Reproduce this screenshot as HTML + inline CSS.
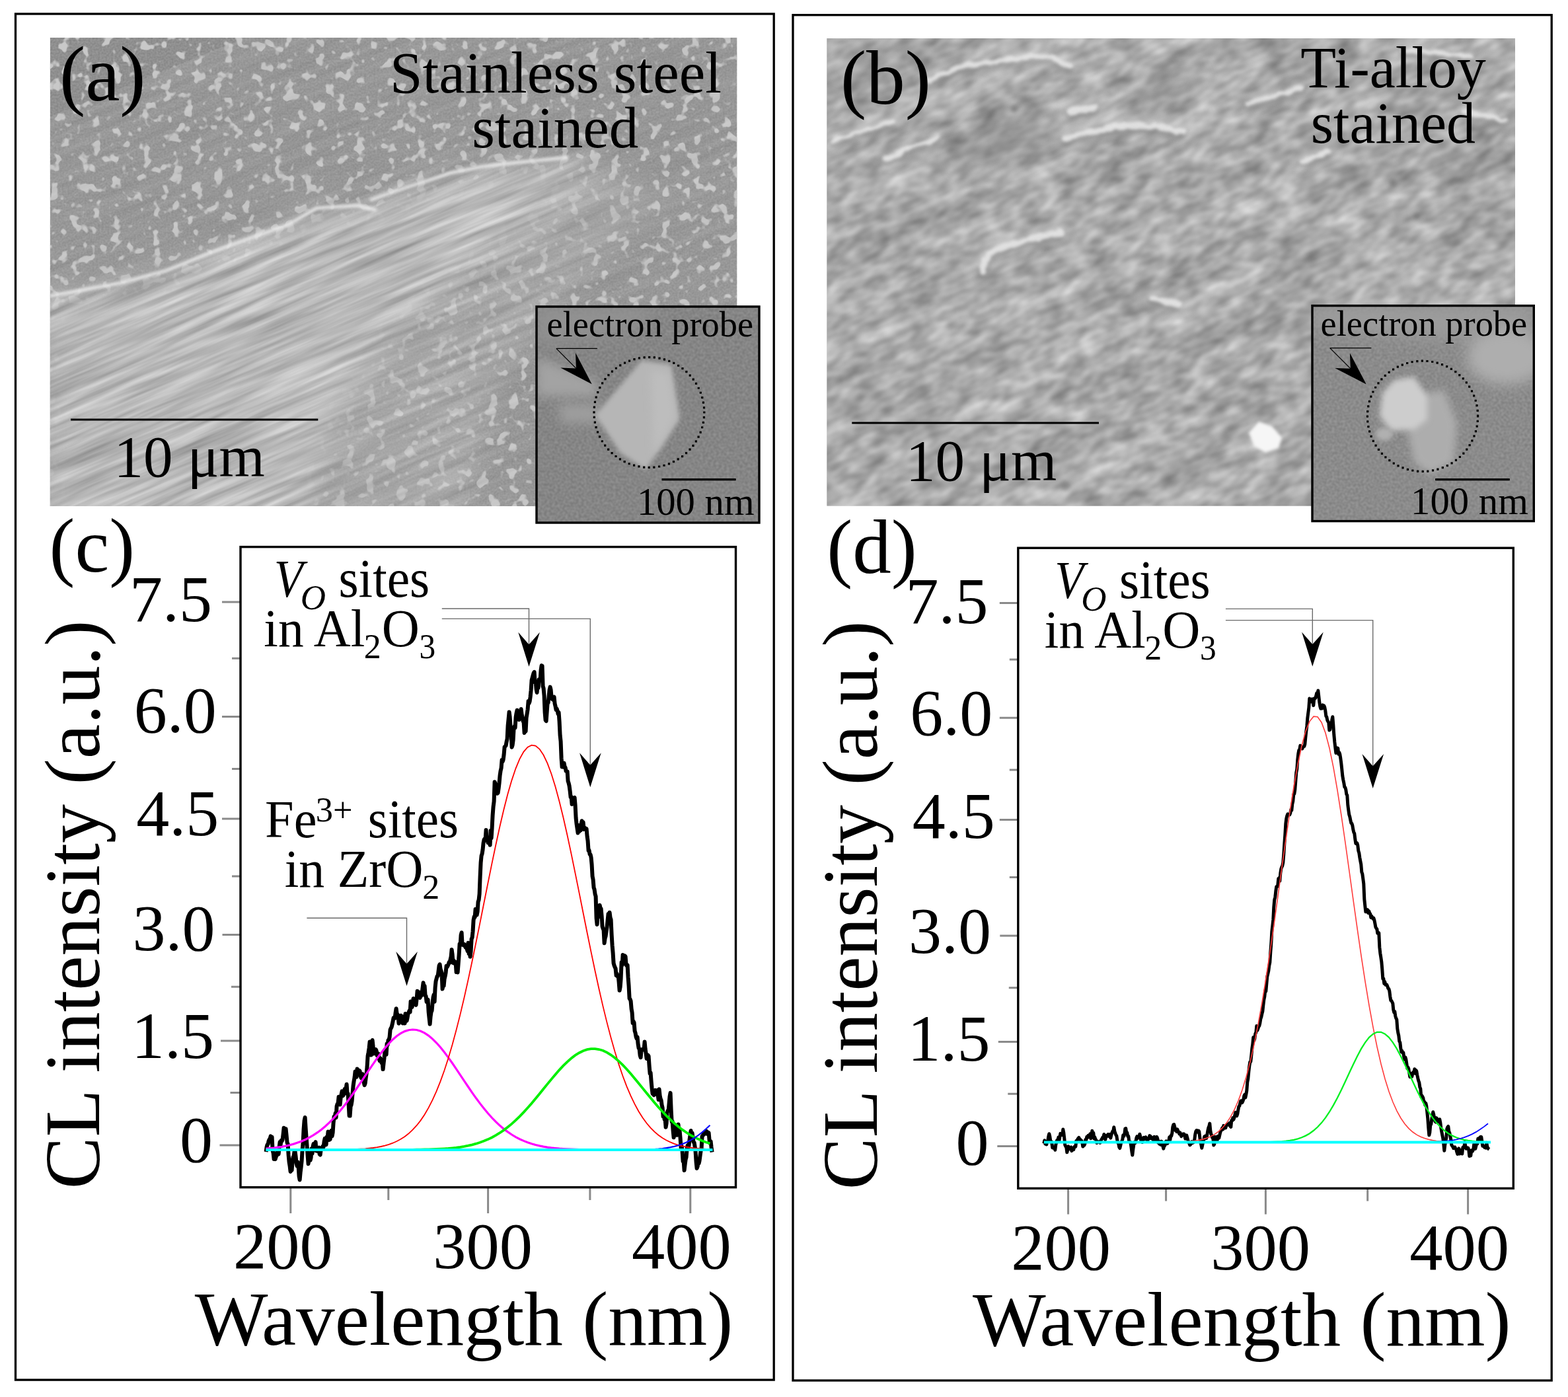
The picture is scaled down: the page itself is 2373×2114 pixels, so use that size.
<!DOCTYPE html>
<html><head><meta charset="utf-8"><title>CL spectra figure</title><style>html,body{margin:0;padding:0;background:#fff;overflow:hidden;}svg{display:block;}text{font-family:"Liberation Serif","Times New Roman",serif;fill:#000;}</style></head><body>
<svg width="2373" height="2114" viewBox="0 0 2373 2114">
<defs>
<clipPath id="clipA"><rect x="75.7" y="57" width="1039.8" height="709"/></clipPath>
<clipPath id="clipB"><rect x="1251.5" y="58" width="1041.5" height="707.5"/></clipPath>
<mask id="bandMask" maskUnits="userSpaceOnUse" x="0" y="0" width="1200" height="800"><path d="M60,450 L184,430 L250,412 L317,385 L380,362 L438,341 L479,317 L540,313 L560,305 L620,284 L681,264 L730,254 L782,248 L870,238 L900,250 L813,345 L700,420 L604,500 L520,640 L480,800 L60,800 Z" fill="#fff" filter="url(#blur20)"/></mask>
<mask id="bandMask2" maskUnits="userSpaceOnUse" x="0" y="0" width="1200" height="800"><path d="M560,420 L760,330 L900,250 L1000,300 L880,420 L760,560 L700,800 L480,800 Z" fill="#fff" filter="url(#blur20)"/></mask>
<clipPath id="bandA"><path d="M60,446 L275,405 L481,317 L686,266 L779,248 L900,228 L1130,190 L1130,250 L900,330 L800,420 L700,560 L600,800 L60,800 Z"/></clipPath>
<clipPath id="clipIA"><rect x="812" y="464" width="337" height="327"/></clipPath>
<clipPath id="clipIB"><rect x="1986" y="462.6" width="335.3" height="326"/></clipPath>
<filter id="grainA" x="0" y="0" width="100%" height="100%" color-interpolation-filters="sRGB">
  <feTurbulence type="fractalNoise" baseFrequency="0.065" numOctaves="2" seed="4" result="n"/>
  <feColorMatrix in="n" type="matrix" values="0 0 0 0 0  0 0 0 0 0  0 0 0 0 0  1 0 0 0 0" result="a"/>
  <feComponentTransfer in="a" result="b"><feFuncA type="linear" slope="10" intercept="-5.7"/></feComponentTransfer>
  <feComposite in="SourceGraphic" in2="b" operator="in"/>
</filter>
<filter id="fineA" x="0" y="0" width="100%" height="100%" color-interpolation-filters="sRGB">
  <feTurbulence type="fractalNoise" baseFrequency="0.35" numOctaves="1" seed="11" result="n"/>
  <feColorMatrix in="n" type="matrix" values="0 0 0 0 0  0 0 0 0 0  0 0 0 0 0  0.25 0 0 0 -0.08"/>
</filter>
<filter id="streakA" x="0" y="0" width="100%" height="100%" color-interpolation-filters="sRGB">
  <feTurbulence type="fractalNoise" baseFrequency="0.006 0.1" numOctaves="3" seed="2" result="n"/>
  <feColorMatrix in="n" type="matrix" values="0.38 0 0 0 0.535  0.38 0 0 0 0.535  0.38 0 0 0 0.535  0 0 0 0 1"/>
</filter>
<filter id="texB" x="0" y="0" width="100%" height="100%" color-interpolation-filters="sRGB">
  <feTurbulence type="fractalNoise" baseFrequency="0.006 0.018" numOctaves="3" seed="5" result="n"/>
  <feColorMatrix in="n" type="matrix" values="0.45 0 0 0 0.44  0.45 0 0 0 0.44  0.45 0 0 0 0.44  0 0 0 0 1"/>
</filter>
<filter id="texB2" x="0" y="0" width="100%" height="100%" color-interpolation-filters="sRGB">
  <feTurbulence type="fractalNoise" baseFrequency="0.03 0.055" numOctaves="2" seed="8" result="n"/>
  <feColorMatrix in="n" type="matrix" values="0.7 0 0 0 0.32  0.7 0 0 0 0.32  0.7 0 0 0 0.32  0 0 0 0 1"/>
</filter>
<filter id="texI" x="0" y="0" width="100%" height="100%" color-interpolation-filters="sRGB">
  <feTurbulence type="fractalNoise" baseFrequency="0.25" numOctaves="1" seed="21" result="n"/>
  <feColorMatrix in="n" type="matrix" values="1 0 0 0 0  1 0 0 0 0  1 0 0 0 0  0 0 0 0 1"/>
</filter>
<filter id="blur10" filterUnits="userSpaceOnUse" x="0" y="0" width="2373" height="2114"><feGaussianBlur stdDeviation="10"/></filter>
<filter id="blur3" filterUnits="userSpaceOnUse" x="0" y="0" width="2373" height="2114"><feGaussianBlur stdDeviation="3"/></filter>
<filter id="blur20" filterUnits="userSpaceOnUse" x="0" y="0" width="2373" height="2114"><feGaussianBlur stdDeviation="20"/></filter>
<filter id="bumpy" filterUnits="userSpaceOnUse" x="0" y="0" width="2373" height="2114">
  <feTurbulence type="fractalNoise" baseFrequency="0.06" numOctaves="2" seed="3" result="t"/>
  <feDisplacementMap in="SourceGraphic" in2="t" scale="10" xChannelSelector="R" yChannelSelector="G" result="d"/>
  <feGaussianBlur in="d" stdDeviation="2.2"/>
</filter>
<filter id="blur12" filterUnits="userSpaceOnUse" x="0" y="0" width="2373" height="2114"><feGaussianBlur stdDeviation="12"/></filter>
<filter id="blur30" filterUnits="userSpaceOnUse" x="0" y="0" width="2373" height="2114"><feGaussianBlur stdDeviation="30"/></filter>
<filter id="blur8" filterUnits="userSpaceOnUse" x="0" y="0" width="2373" height="2114"><feGaussianBlur stdDeviation="8"/></filter>
<filter id="blur6" filterUnits="userSpaceOnUse" x="0" y="0" width="2373" height="2114"><feGaussianBlur stdDeviation="6"/></filter>
<filter id="blur4" filterUnits="userSpaceOnUse" x="0" y="0" width="2373" height="2114"><feGaussianBlur stdDeviation="4"/></filter>
<filter id="blur2" filterUnits="userSpaceOnUse" x="0" y="0" width="2373" height="2114"><feGaussianBlur stdDeviation="2"/></filter>
</defs>
<rect width="2373" height="2114" fill="#fff"/>
<rect x="23.5" y="21" width="1147.7" height="2067.1" fill="none" stroke="#000" stroke-width="3.3"/>
<rect x="1200" y="22.7" width="1148.2" height="2066.3" fill="none" stroke="#000" stroke-width="3.3"/>
<g clip-path="url(#clipA)">
<rect x="75.7" y="57.0" width="1039.8" height="709.0" fill="#969696"/>
<rect x="75.7" y="57.0" width="1039.8" height="709.0" fill="#000" filter="url(#fineA)"/>
<rect x="75.7" y="57.0" width="1039.8" height="709.0" fill="#c8c8c8" filter="url(#grainA)"/>
<g transform="rotate(-22 600 450)" opacity="0.2"><rect x="-100" y="0" width="1600" height="1000" filter="url(#streakA)"/></g>
<g mask="url(#bandMask2)" opacity="0.45"><g transform="rotate(-23 600 450)"><rect x="-100" y="0" width="1600" height="1000" filter="url(#streakA)"/></g></g>
<g mask="url(#bandMask)"><g transform="rotate(-23 600 450)"><rect x="-100" y="0" width="1600" height="1000" filter="url(#streakA)"/></g></g>
<path d="M75,448 L184,428 L250,410 L317,383 L380,360 L438,339 L479,315 L540,311 L570,318 M560,303 L620,282 L681,262 L730,252 L782,246 L860,238" stroke="#f0f0f0" stroke-width="5" fill="none" opacity="0.9" filter="url(#blur2)"/>
</g>
<g clip-path="url(#clipB)">
<rect x="1251.5" y="58.0" width="1041.5" height="707.5" fill="#a6a6a6"/>
<g transform="rotate(-24 1770 410)"><rect x="1000" y="-300" width="1600" height="1400" filter="url(#texB)"/><rect x="1000" y="-300" width="1600" height="1400" filter="url(#texB2)" opacity="0.55"/></g>
<g fill="#7e7e7e" opacity="0.28" filter="url(#blur12)"><ellipse cx="1525" cy="215" rx="90" ry="40" transform="rotate(-20 1525 215)"/><ellipse cx="1765" cy="130" rx="60" ry="25" transform="rotate(-20 1765 130)"/><ellipse cx="1330" cy="90" rx="70" ry="22" transform="rotate(-20 1330 90)"/></g>
<g fill="#6a6a6a" opacity="0.6" filter="url(#blur3)"><circle cx="2108" cy="276" r="6"/><circle cx="2144" cy="327" r="5"/><circle cx="1535" cy="165" r="6"/><circle cx="1612" cy="735" r="8"/></g>
<g fill="none" stroke="#d2d2d2" stroke-linecap="round" filter="url(#blur8)" opacity="0.35"><path d="M1404,122 C1440,104 1460,98 1481,96 C1520,92 1550,84 1579,86 C1600,88 1612,95 1620,101" stroke-width="24"/><path d="M1342,240 C1370,228 1395,216 1420,209" stroke-width="21"/><path d="M1610,209 C1650,200 1690,190 1713,189 C1745,188 1770,195 1790,199" stroke-width="30"/><path d="M1620,168 L1656,163" stroke-width="36"/><path d="M1887,158 C1920,148 1950,138 1970,132" stroke-width="21"/><path d="M2124,76 C2160,78 2200,82 2226,86" stroke-width="21"/><path d="M2216,168 C2240,172 2260,178 2278,183" stroke-width="21"/><path d="M1486,410 C1488,395 1494,385 1505,378 C1540,366 1575,356 1605,353" stroke-width="30"/><path d="M1743,451 L1784,461" stroke-width="30"/><path d="M1970,245 L2011,230" stroke-width="21"/><path d="M1260,214 C1300,200 1330,188 1353,183" stroke-width="18"/></g>
<g fill="none" stroke="#7a7a7a" stroke-linecap="round" filter="url(#blur4)" opacity="0.55" transform="translate(0 7)"><path d="M1404,122 C1440,104 1460,98 1481,96 C1520,92 1550,84 1579,86 C1600,88 1612,95 1620,101" stroke-width="10"/><path d="M1342,240 C1370,228 1395,216 1420,209" stroke-width="9"/><path d="M1610,209 C1650,200 1690,190 1713,189 C1745,188 1770,195 1790,199" stroke-width="12"/><path d="M1620,168 L1656,163" stroke-width="14"/><path d="M1887,158 C1920,148 1950,138 1970,132" stroke-width="9"/><path d="M2124,76 C2160,78 2200,82 2226,86" stroke-width="9"/><path d="M2216,168 C2240,172 2260,178 2278,183" stroke-width="9"/><path d="M1486,410 C1488,395 1494,385 1505,378 C1540,366 1575,356 1605,353" stroke-width="12"/><path d="M1743,451 L1784,461" stroke-width="12"/><path d="M1970,245 L2011,230" stroke-width="9"/><path d="M1260,214 C1300,200 1330,188 1353,183" stroke-width="8"/></g>
<g fill="none" stroke="#e6e6e6" stroke-linecap="round" filter="url(#bumpy)" opacity="0.9"><path d="M1404,122 C1440,104 1460,98 1481,96 C1520,92 1550,84 1579,86 C1600,88 1612,95 1620,101" stroke-width="8"/><path d="M1342,240 C1370,228 1395,216 1420,209" stroke-width="7"/><path d="M1610,209 C1650,200 1690,190 1713,189 C1745,188 1770,195 1790,199" stroke-width="10"/><path d="M1620,168 L1656,163" stroke-width="12"/><path d="M1887,158 C1920,148 1950,138 1970,132" stroke-width="7"/><path d="M2124,76 C2160,78 2200,82 2226,86" stroke-width="7"/><path d="M2216,168 C2240,172 2260,178 2278,183" stroke-width="7"/><path d="M1486,410 C1488,395 1494,385 1505,378 C1540,366 1575,356 1605,353" stroke-width="10"/><path d="M1743,451 L1784,461" stroke-width="10"/><path d="M1970,245 L2011,230" stroke-width="7"/><path d="M1260,214 C1300,200 1330,188 1353,183" stroke-width="6"/></g>
<path d="M1890,655 L1905,638 L1925,645 L1940,662 L1935,678 L1915,685 L1898,675 Z" fill="#f6f6f6" filter="url(#blur2)"/>
</g>
<g clip-path="url(#clipIA)">
<rect x="812" y="464" width="337" height="327" fill="#878787"/>
<rect x="812" y="464" width="337" height="327" filter="url(#texI)" opacity="0.15"/>
<path d="M812,540 L900,575 L905,600 L812,600 Z" fill="#a3a3a3" filter="url(#blur8)"/>
<path d="M845,612 L905,612 L905,640 L850,640 Z" fill="#9e9e9e" filter="url(#blur8)"/>
<path d="M812,464 L1000,464 L960,500 L812,520 Z" fill="#929292" filter="url(#blur12)"/>
<path d="M971,545.5 L1015.6,551.8 L1028.3,634.5 L977.4,710.9 L939.3,685.4 L901,628.2 Z" fill="#b6b6b6" filter="url(#blur3)"/>
<path d="M985,560 L1012,565 L1022,630 L990,690 Z" fill="#bdbdbd" filter="url(#blur6)"/>
</g>
<rect x="812" y="464" width="337" height="327" fill="none" stroke="#000" stroke-width="3.4"/>
<circle cx="982.4" cy="624" r="83.4" fill="none" stroke="#000" stroke-width="3.2" stroke-dasharray="0 7.7" stroke-linecap="square"/>
<g clip-path="url(#clipIB)">
<rect x="1986" y="462.6" width="335.3000000000002" height="326.0" fill="#8e8e8e"/>
<rect x="1986" y="462.6" width="335.3000000000002" height="326.0" filter="url(#texI)" opacity="0.15"/>
<path d="M1986,462 L2321,462 L2321,520 L1986,500 Z" fill="#9c9c9c" filter="url(#blur12)"/>
<ellipse cx="2280" cy="540" rx="60" ry="42" fill="#aeaeae" filter="url(#blur10)"/>
<path d="M2135,600 L2185,590 L2205,640 L2200,700 L2165,718 L2140,700 L2130,650 Z" fill="#adadad" filter="url(#blur6)"/>
<path d="M2092,595 L2110,575 L2140,570 L2160,600 L2160,635 L2140,650 L2105,652 L2088,630 Z" fill="#cdcdcd" filter="url(#blur4)"/>
<ellipse cx="2095" cy="657" rx="13" ry="10" fill="#b0b0b0" filter="url(#blur3)"/>
</g>
<rect x="1986" y="462.6" width="335.3000000000002" height="326.0" fill="none" stroke="#000" stroke-width="3.4"/>
<circle cx="2153" cy="629.8" r="83.6" fill="none" stroke="#000" stroke-width="3.2" stroke-dasharray="0 7.7" stroke-linecap="square"/>
<path d="M841.9,527.4 L903.9,527.4 M841.9,527.4 L875.7,561.3" stroke="#000" stroke-width="1.2" fill="none"/>
<path d="M895.7,581.3 L848.3,556.5 L871.9,557.4 L871.0,533.9 Z" fill="#000"/>
<path d="M2012.7,526.7 L2075.4,526.7 M2012.7,526.7 L2047.6999999999998,561.6" stroke="#000" stroke-width="1.2" fill="none"/>
<path d="M2067.7,581.6 L2020.3,556.9 L2043.8,557.8 L2042.9,534.2 Z" fill="#000"/>
<text x="90" y="151.8" font-size="117.6" text-anchor="start" >(a)</text>
<text x="1271.9" y="157.2" font-size="117.5" text-anchor="start" >(b)</text>
<text x="841" y="139.5" font-size="89" text-anchor="middle" >Stainless steel</text>
<text x="840.3" y="223.1" font-size="89" text-anchor="middle" >stained</text>
<text x="2108.5" y="131.6" font-size="88" text-anchor="middle" >Ti-alloy</text>
<text x="2108.5" y="215.6" font-size="88" text-anchor="middle" >stained</text>
<path d="M107.1,635.1 L481.3,635.1 M1289.3,640 L1663,640" stroke="#000" stroke-width="3"/>
<text x="172.6" y="721.4" font-size="89" text-anchor="start" >10 μm</text>
<text x="1371" y="727" font-size="89" text-anchor="start" >10 μm</text>
<text x="827.5" y="509.1" font-size="54.4" text-anchor="start" >electron probe</text>
<text x="1998.6" y="508" font-size="54.4" text-anchor="start" >electron probe</text>
<path d="M1001.5,725.7 L1113.7,725.7 M2172.1,725.6 L2284.8,725.6" stroke="#000" stroke-width="3.2"/>
<text x="963.9" y="778.6" font-size="58.7" text-anchor="start" >100 nm</text>
<text x="2135.1" y="778.4" font-size="58.7" text-anchor="start" >100 nm</text>
<text x="74.6" y="864.9" font-size="116.6" text-anchor="start" >(c)</text>
<text x="1251.3" y="867.2" font-size="117" text-anchor="start" >(d)</text>
<path d="M336,911 L364.0,911 M336,1084.6 L364.0,1084.6 M336,1239 L364.0,1239 M336.5,1414.5 L364.0,1414.5 M334,1575 L364.0,1575 M332.5,1733 L364.0,1733 M351,996.3 L364.0,996.3 M351,1163.5 L364.0,1163.5 M351,1326 L364.0,1326 M350,1493.2 L364.0,1493.2 M348.5,1653.6 L364.0,1653.6 M439.8,1796.7 L439.8,1836 M738.6,1796.7 L738.6,1836 M1044.8,1796.7 L1044.8,1836 M587.8,1796.7 L587.8,1816 M892.9,1796.7 L892.9,1816" stroke="#8a8a8a" stroke-width="3" fill="none"/>
<text x="320.9" y="939.5" font-size="100" text-anchor="end" >7.5</text>
<text x="327.8" y="1108" font-size="100" text-anchor="end" >6.0</text>
<text x="331.3" y="1263.8" font-size="100" text-anchor="end" >4.5</text>
<text x="325.4" y="1438.3" font-size="100" text-anchor="end" >3.0</text>
<text x="324.0" y="1601" font-size="100" text-anchor="end" >1.5</text>
<text x="321.9" y="1758.4" font-size="100" text-anchor="end" >0</text>
<text x="428.4" y="1919" font-size="100.5" text-anchor="middle" >200</text>
<text x="730.5" y="1919" font-size="100.5" text-anchor="middle" >300</text>
<text x="1031.4" y="1919" font-size="100.5" text-anchor="middle" >400</text>
<text x="0" y="0" font-size="118" transform="translate(150.0 1799.3) rotate(-90)">CL intensity (a.u.)</text>
<text x="294.7" y="2035.2" font-size="117.3" text-anchor="start" >Wavelength (nm)</text>
<polyline points="402.6,1743.0 403.6,1735.6 404.6,1732.1 405.6,1731.4 406.6,1726.7 407.6,1724.3 408.6,1723.3 409.6,1719.4 410.6,1723.3 411.6,1720.6 412.6,1741.0 413.6,1744.7 414.6,1754.0 415.6,1752.3 416.6,1754.2 417.6,1750.7 418.6,1748.9 419.6,1742.0 420.6,1741.9 421.6,1746.5 422.6,1736.1 423.6,1728.1 424.6,1732.5 425.6,1725.8 426.6,1726.7 427.6,1724.4 428.6,1716.4 429.6,1706.7 430.6,1712.0 431.6,1714.5 432.6,1708.3 433.6,1718.4 434.6,1729.2 435.6,1730.9 436.6,1747.7 437.6,1758.5 438.6,1764.4 439.6,1772.9 440.6,1770.2 441.6,1770.9 442.6,1756.8 443.6,1751.2 444.6,1749.3 445.6,1742.4 446.6,1742.7 447.6,1750.1 448.6,1760.6 449.6,1764.6 450.6,1758.4 451.6,1764.2 452.6,1780.0 453.6,1785.5 454.6,1774.5 455.6,1766.3 456.6,1756.9 457.6,1740.2 458.6,1728.9 459.6,1708.5 460.6,1695.8 461.6,1691.0 462.6,1707.2 463.6,1721.2 464.6,1734.1 465.6,1748.5 466.6,1761.2 467.6,1753.4 468.6,1753.6 469.6,1755.8 470.6,1751.8 471.6,1738.2 472.6,1745.7 473.6,1734.6 474.6,1730.8 475.6,1730.7 476.6,1735.1 477.6,1728.1 478.6,1741.5 479.6,1740.3 480.6,1738.6 481.6,1742.5 482.6,1736.5 483.6,1746.4 484.6,1747.5 485.6,1740.3 486.6,1738.6 487.6,1736.4 488.6,1734.5 489.6,1735.7 490.6,1727.5 491.6,1722.9 492.6,1725.9 493.6,1732.2 494.6,1720.4 495.6,1722.0 496.6,1712.4 497.6,1725.1 498.6,1722.4 499.6,1724.2 500.6,1716.3 501.6,1710.9 502.6,1719.3 503.6,1714.0 504.6,1699.1 505.6,1689.7 506.6,1692.3 507.6,1684.6 508.6,1691.2 509.6,1673.8 510.6,1670.5 511.6,1669.5 512.6,1659.7 513.6,1661.5 514.6,1671.6 515.6,1661.6 516.6,1656.2 517.6,1651.4 518.6,1658.4 519.6,1657.4 520.6,1653.2 521.6,1648.1 522.6,1649.3 523.6,1647.5 524.6,1640.8 525.6,1655.3 526.6,1654.9 527.6,1670.8 528.6,1688.5 529.6,1688.6 530.6,1674.4 531.6,1672.0 532.6,1666.3 533.6,1653.8 534.6,1643.0 535.6,1636.0 536.6,1630.4 537.6,1621.4 538.6,1624.5 539.6,1629.8 540.6,1617.4 541.6,1621.5 542.6,1621.1 543.6,1619.8 544.6,1621.0 545.6,1628.1 546.6,1631.1 547.6,1632.0 548.6,1625.2 549.6,1632.0 550.6,1637.4 551.6,1642.1 552.6,1639.5 553.6,1631.8 554.6,1624.6 555.6,1614.1 556.6,1597.7 557.6,1592.5 558.6,1585.9 559.6,1576.5 560.6,1579.9 561.6,1596.6 562.6,1580.8 563.6,1574.0 564.6,1583.4 565.6,1594.6 566.6,1588.5 567.6,1590.5 568.6,1588.0 569.6,1589.9 570.6,1597.2 571.6,1595.9 572.6,1594.4 573.6,1601.6 574.6,1605.1 575.6,1601.5 576.6,1606.1 577.6,1608.5 578.6,1607.3 579.6,1618.1 580.6,1608.6 581.6,1600.3 582.6,1590.1 583.6,1587.8 584.6,1595.8 585.6,1579.5 586.6,1581.4 587.6,1573.9 588.6,1573.5 589.6,1569.3 590.6,1558.2 591.6,1556.0 592.6,1554.2 593.6,1550.3 594.6,1545.5 595.6,1540.4 596.6,1541.2 597.6,1540.7 598.6,1532.5 599.6,1526.2 600.6,1533.7 601.6,1535.2 602.6,1540.1 603.6,1548.8 604.6,1541.5 605.6,1541.0 606.6,1536.7 607.6,1539.0 608.6,1538.5 609.6,1548.4 610.6,1542.2 611.6,1538.1 612.6,1548.6 613.6,1534.0 614.6,1543.4 615.6,1544.5 616.6,1540.0 617.6,1533.7 618.6,1531.9 619.6,1529.4 620.6,1531.6 621.6,1515.5 622.6,1521.9 623.6,1524.0 624.6,1518.4 625.6,1510.9 626.6,1516.3 627.6,1513.4 628.6,1519.6 629.6,1520.8 630.6,1511.6 631.6,1499.8 632.6,1505.3 633.6,1501.1 634.6,1507.2 635.6,1509.9 636.6,1501.7 637.6,1507.0 638.6,1502.3 639.6,1494.8 640.6,1487.1 641.6,1494.6 642.6,1491.9 643.6,1506.7 644.6,1507.3 645.6,1516.2 646.6,1516.6 647.6,1512.7 648.6,1531.2 649.6,1540.6 650.6,1549.7 651.6,1538.2 652.6,1531.3 653.6,1529.3 654.6,1517.5 655.6,1509.0 656.6,1505.3 657.6,1515.8 658.6,1494.5 659.6,1484.8 660.6,1481.0 661.6,1477.3 662.6,1477.2 663.6,1469.3 664.6,1461.4 665.6,1459.3 666.6,1466.3 667.6,1469.2 668.6,1473.1 669.6,1496.5 670.6,1491.0 671.6,1492.0 672.6,1481.5 673.6,1477.4 674.6,1472.0 675.6,1461.8 676.6,1463.3 677.6,1461.7 678.6,1459.3 679.6,1456.2 680.6,1456.9 681.6,1451.9 682.6,1447.8 683.6,1437.0 684.6,1444.2 685.6,1457.0 686.6,1453.3 687.6,1458.0 688.6,1455.4 689.6,1456.2 690.6,1471.1 691.6,1466.7 692.6,1471.5 693.6,1458.9 694.6,1445.5 695.6,1428.5 696.6,1430.6 697.6,1415.1 698.6,1411.2 699.6,1429.5 700.6,1429.8 701.6,1430.4 702.6,1428.9 703.6,1429.9 704.6,1433.7 705.6,1434.3 706.6,1435.7 707.6,1439.3 708.6,1426.7 709.6,1443.1 710.6,1439.2 711.6,1447.8 712.6,1439.7 713.6,1421.0 714.6,1418.7 715.6,1409.2 716.6,1392.3 717.6,1387.3 718.6,1388.0 719.6,1375.8 720.6,1382.5 721.6,1384.6 722.6,1379.7 723.6,1364.8 724.6,1361.8 725.6,1352.9 726.6,1327.0 727.6,1305.4 728.6,1295.0 729.6,1292.0 730.6,1285.5 731.6,1275.6 732.6,1270.7 733.6,1269.1 734.6,1270.4 735.6,1255.9 736.6,1271.9 737.6,1270.3 738.6,1275.3 739.6,1270.8 740.6,1273.9 741.6,1278.8 742.6,1257.1 743.6,1268.3 744.6,1253.4 745.6,1233.4 746.6,1220.6 747.6,1212.8 748.6,1183.2 749.6,1185.5 750.6,1187.3 751.6,1190.7 752.6,1200.8 753.6,1199.7 754.6,1193.1 755.6,1184.6 756.6,1173.3 757.6,1166.4 758.6,1162.3 759.6,1150.0 760.6,1152.6 761.6,1149.7 762.6,1142.0 763.6,1130.3 764.6,1129.3 765.6,1128.2 766.6,1122.5 767.6,1118.1 768.6,1098.1 769.6,1088.1 770.6,1077.5 771.6,1084.6 772.6,1099.4 773.6,1110.5 774.6,1130.7 775.6,1127.5 776.6,1120.1 777.6,1102.1 778.6,1099.1 779.6,1101.4 780.6,1085.3 781.6,1079.1 782.6,1074.7 783.6,1080.9 784.6,1082.5 785.6,1089.1 786.6,1081.2 787.6,1080.2 788.6,1072.9 789.6,1081.1 790.6,1085.1 791.6,1091.4 792.6,1092.7 793.6,1109.0 794.6,1104.3 795.6,1106.7 796.6,1086.3 797.6,1080.2 798.6,1073.6 799.6,1061.0 800.6,1064.3 801.6,1061.5 802.6,1054.6 803.6,1044.7 804.6,1029.4 805.6,1025.8 806.6,1021.9 807.6,1018.5 808.6,1016.9 809.6,1032.5 810.6,1031.1 811.6,1043.0 812.6,1048.0 813.6,1037.2 814.6,1041.1 815.6,1028.3 816.6,1030.4 817.6,1029.4 818.6,1014.0 819.6,1007.1 820.6,1007.6 821.6,1038.3 822.6,1041.7 823.6,1052.7 824.6,1078.0 825.6,1089.7 826.6,1091.2 827.6,1078.1 828.6,1064.4 829.6,1063.4 830.6,1054.4 831.6,1043.9 832.6,1039.6 833.6,1043.7 834.6,1055.0 835.6,1057.7 836.6,1058.7 837.6,1055.6 838.6,1054.7 839.6,1064.7 840.6,1068.9 841.6,1074.1 842.6,1072.6 843.6,1075.4 844.6,1080.5 845.6,1078.1 846.6,1092.0 847.6,1112.8 848.6,1122.0 849.6,1147.2 850.6,1160.4 851.6,1159.4 852.6,1160.7 853.6,1154.8 854.6,1160.2 855.6,1161.5 856.6,1166.9 857.6,1167.4 858.6,1167.4 859.6,1182.1 860.6,1185.0 861.6,1189.3 862.6,1196.8 863.6,1206.1 864.6,1205.6 865.6,1216.9 866.6,1213.1 867.6,1209.2 868.6,1207.9 869.6,1207.0 870.6,1218.6 871.6,1237.9 872.6,1247.1 873.6,1253.7 874.6,1260.5 875.6,1249.1 876.6,1258.2 877.6,1252.5 878.6,1256.7 879.6,1246.8 880.6,1242.3 881.6,1245.6 882.6,1244.2 883.6,1254.9 884.6,1252.2 885.6,1253.8 886.6,1255.1 887.6,1254.3 888.6,1265.5 889.6,1272.5 890.6,1287.1 891.6,1286.9 892.6,1292.8 893.6,1293.2 894.6,1297.7 895.6,1308.4 896.6,1326.1 897.6,1331.0 898.6,1343.2 899.6,1346.1 900.6,1353.1 901.6,1356.3 902.6,1389.5 903.6,1398.9 904.6,1384.8 905.6,1387.8 906.6,1381.0 907.6,1369.7 908.6,1374.1 909.6,1375.0 910.6,1386.3 911.6,1402.1 912.6,1405.2 913.6,1407.6 914.6,1427.2 915.6,1420.0 916.6,1416.6 917.6,1409.3 918.6,1403.0 919.6,1392.5 920.6,1382.9 921.6,1391.9 922.6,1380.8 923.6,1388.8 924.6,1391.8 925.6,1413.8 926.6,1430.5 927.6,1441.8 928.6,1457.7 929.6,1461.1 930.6,1463.5 931.6,1465.7 932.6,1476.0 933.6,1473.4 934.6,1477.5 935.6,1476.3 936.6,1485.9 937.6,1498.8 938.6,1493.7 939.6,1481.2 940.6,1456.3 941.6,1460.6 942.6,1445.0 943.6,1451.2 944.6,1448.9 945.6,1446.4 946.6,1447.7 947.6,1460.1 948.6,1461.4 949.6,1460.4 950.6,1479.0 951.6,1491.8 952.6,1510.9 953.6,1512.2 954.6,1514.8 955.6,1526.6 956.6,1532.2 957.6,1548.0 958.6,1545.5 959.6,1547.6 960.6,1560.1 961.6,1563.2 962.6,1569.0 963.6,1571.8 964.6,1569.3 965.6,1579.8 966.6,1586.0 967.6,1587.3 968.6,1596.8 969.6,1600.2 970.6,1588.9 971.6,1588.1 972.6,1588.6 973.6,1588.2 974.6,1587.7 975.6,1576.5 976.6,1587.3 977.6,1594.0 978.6,1601.9 979.6,1596.2 980.6,1596.7 981.6,1598.2 982.6,1612.7 983.6,1624.4 984.6,1623.3 985.6,1636.3 986.6,1646.9 987.6,1655.1 988.6,1652.8 989.6,1657.2 990.6,1653.9 991.6,1649.7 992.6,1655.5 993.6,1655.9 994.6,1650.0 995.6,1657.2 996.6,1664.0 997.6,1648.2 998.6,1657.8 999.6,1662.6 1000.6,1664.9 1001.6,1672.1 1002.6,1676.3 1003.6,1689.5 1004.6,1685.4 1005.6,1694.0 1006.6,1692.7 1007.6,1705.7 1008.6,1699.7 1009.6,1683.4 1010.6,1680.7 1011.6,1681.0 1012.6,1670.0 1013.6,1659.1 1014.6,1653.9 1015.6,1678.6 1016.6,1697.2 1017.6,1696.8 1018.6,1710.7 1019.6,1721.3 1020.6,1717.0 1021.6,1714.6 1022.6,1711.1 1023.6,1704.5 1024.6,1717.8 1025.6,1716.1 1026.6,1701.6 1027.6,1715.3 1028.6,1711.5 1029.6,1722.3 1030.6,1736.8 1031.6,1734.3 1032.6,1741.6 1033.6,1757.2 1034.6,1756.3 1035.6,1771.0 1036.6,1762.5 1037.6,1754.8 1038.6,1751.1 1039.6,1738.4 1040.6,1733.3 1041.6,1737.2 1042.6,1733.2 1043.6,1724.2 1044.6,1717.7 1045.6,1711.0 1046.6,1722.4 1047.6,1714.4 1048.6,1721.7 1049.6,1728.4 1050.6,1728.9 1051.6,1734.9 1052.6,1742.6 1053.6,1758.5 1054.6,1767.9 1055.6,1765.4 1056.6,1760.7 1057.6,1760.5 1058.6,1756.2 1059.6,1748.6 1060.6,1741.4 1061.6,1737.7 1062.6,1719.4 1063.6,1718.5 1064.6,1716.2 1065.6,1716.4 1066.6,1715.0 1067.6,1714.1 1068.6,1713.7 1069.6,1712.0 1070.6,1716.1 1071.6,1715.4 1072.6,1714.3 1073.6,1725.4 1074.6,1730.0 1075.6,1727.1 1076.6,1736.1 1077.6,1743.5" fill="none" stroke="#000" stroke-width="6" stroke-linejoin="round"/>
<polyline points="402.5,1738.1 408.5,1737.6 414.5,1737.0 420.5,1736.2 426.5,1735.3 432.5,1734.1 438.5,1732.7 444.5,1731.1 450.5,1729.1 456.5,1726.9 462.5,1724.2 468.5,1721.1 474.5,1717.6 480.5,1713.7 486.5,1709.2 492.5,1704.2 498.5,1698.6 504.5,1692.5 510.5,1685.9 516.5,1678.8 522.5,1671.2 528.5,1663.1 534.5,1654.7 540.5,1646.0 546.5,1637.1 552.5,1628.1 558.5,1619.1 564.5,1610.3 570.5,1601.7 576.5,1593.6 582.5,1586.0 588.5,1579.1 594.5,1573.0 600.5,1567.8 606.5,1563.7 612.5,1560.6 618.5,1558.7 624.5,1558.0 630.5,1558.5 636.5,1560.2 642.5,1563.1 648.5,1567.1 654.5,1572.1 660.5,1578.0 666.5,1584.8 672.5,1592.3 678.5,1600.4 684.5,1608.8 690.5,1617.6 696.5,1626.6 702.5,1635.6 708.5,1644.5 714.5,1653.3 720.5,1661.8 726.5,1669.9 732.5,1677.5 738.5,1684.8 744.5,1691.5 750.5,1697.6 756.5,1703.3 762.5,1708.4 768.5,1712.9 774.5,1717.0 780.5,1720.6 786.5,1723.7 792.5,1726.4 798.5,1728.8 804.5,1730.8 810.5,1732.5 816.5,1733.9 822.5,1735.1 828.5,1736.1 834.5,1736.9 840.5,1737.5 846.5,1738.1 852.5,1738.5 858.5,1738.8 864.5,1739.1 870.5,1739.3 876.5,1739.5 882.5,1739.6 888.5,1739.7 894.5,1739.8 900.5,1739.8 906.5,1739.9 912.5,1739.9 918.5,1739.9 924.5,1740.0 930.5,1740.0 936.5,1740.0 942.5,1740.0 948.5,1740.0 954.5,1740.0 960.5,1740.0 966.5,1740.0 972.5,1740.0 978.5,1740.0 984.5,1740.0 990.5,1740.0 996.5,1740.0 1002.5,1740.0 1008.5,1740.0 1014.5,1740.0 1020.5,1740.0 1026.5,1740.0 1032.5,1740.0 1038.5,1740.0 1044.5,1740.0 1050.5,1740.0 1056.5,1740.0 1062.5,1740.0 1068.5,1740.0 1074.5,1740.0" fill="none" stroke="#ff00ff" stroke-width="3.2"/>
<polyline points="402.5,1740.0 408.5,1740.0 414.5,1740.0 420.5,1740.0 426.5,1740.0 432.5,1740.0 438.5,1740.0 444.5,1740.0 450.5,1740.0 456.5,1740.0 462.5,1740.0 468.5,1740.0 474.5,1740.0 480.5,1740.0 486.5,1739.9 492.5,1739.9 498.5,1739.9 504.5,1739.8 510.5,1739.8 516.5,1739.7 522.5,1739.6 528.5,1739.5 534.5,1739.3 540.5,1739.0 546.5,1738.7 552.5,1738.3 558.5,1737.7 564.5,1737.0 570.5,1736.1 576.5,1735.0 582.5,1733.6 588.5,1731.8 594.5,1729.7 600.5,1727.0 606.5,1723.8 612.5,1719.9 618.5,1715.3 624.5,1709.7 630.5,1703.2 636.5,1695.6 642.5,1686.7 648.5,1676.4 654.5,1664.7 660.5,1651.4 666.5,1636.4 672.5,1619.7 678.5,1601.2 684.5,1580.9 690.5,1558.8 696.5,1535.1 702.5,1509.7 708.5,1482.9 714.5,1454.8 720.5,1425.8 726.5,1396.1 732.5,1366.0 738.5,1336.0 744.5,1306.4 750.5,1277.7 756.5,1250.3 762.5,1224.7 768.5,1201.3 774.5,1180.6 780.5,1162.8 786.5,1148.4 792.5,1137.6 798.5,1130.6 804.5,1127.6 810.5,1128.6 816.5,1133.6 822.5,1142.5 828.5,1155.2 834.5,1171.3 840.5,1190.6 846.5,1212.7 852.5,1237.2 858.5,1263.8 864.5,1291.9 870.5,1321.1 876.5,1350.9 882.5,1381.0 888.5,1411.0 894.5,1440.4 900.5,1469.0 906.5,1496.5 912.5,1522.6 918.5,1547.1 924.5,1570.1 930.5,1591.3 936.5,1610.6 942.5,1628.2 948.5,1644.1 954.5,1658.2 960.5,1670.7 966.5,1681.7 972.5,1691.3 978.5,1699.5 984.5,1706.6 990.5,1712.6 996.5,1717.7 1002.5,1722.0 1008.5,1725.5 1014.5,1728.4 1020.5,1730.8 1026.5,1732.8 1032.5,1734.3 1038.5,1735.6 1044.5,1736.6 1050.5,1737.4 1056.5,1738.0 1062.5,1738.5 1068.5,1738.9 1074.5,1739.2" fill="none" stroke="#ff0000" stroke-width="1.8"/>
<polyline points="402.5,1740.0 408.5,1740.0 414.5,1740.0 420.5,1740.0 426.5,1740.0 432.5,1740.0 438.5,1740.0 444.5,1740.0 450.5,1740.0 456.5,1740.0 462.5,1740.0 468.5,1740.0 474.5,1740.0 480.5,1740.0 486.5,1740.0 492.5,1740.0 498.5,1740.0 504.5,1740.0 510.5,1740.0 516.5,1740.0 522.5,1740.0 528.5,1740.0 534.5,1740.0 540.5,1740.0 546.5,1740.0 552.5,1740.0 558.5,1740.0 564.5,1740.0 570.5,1740.0 576.5,1740.0 582.5,1740.0 588.5,1740.0 594.5,1740.0 600.5,1739.9 606.5,1739.9 612.5,1739.9 618.5,1739.9 624.5,1739.8 630.5,1739.7 636.5,1739.6 642.5,1739.5 648.5,1739.4 654.5,1739.2 660.5,1739.0 666.5,1738.7 672.5,1738.3 678.5,1737.9 684.5,1737.3 690.5,1736.7 696.5,1735.9 702.5,1734.9 708.5,1733.7 714.5,1732.3 720.5,1730.7 726.5,1728.8 732.5,1726.6 738.5,1724.1 744.5,1721.2 750.5,1717.9 756.5,1714.2 762.5,1710.1 768.5,1705.5 774.5,1700.6 780.5,1695.2 786.5,1689.3 792.5,1683.1 798.5,1676.5 804.5,1669.7 810.5,1662.5 816.5,1655.2 822.5,1647.8 828.5,1640.4 834.5,1633.1 840.5,1626.0 846.5,1619.1 852.5,1612.7 858.5,1606.8 864.5,1601.5 870.5,1596.9 876.5,1593.2 882.5,1590.2 888.5,1588.2 894.5,1587.2 900.5,1587.1 906.5,1588.0 912.5,1589.8 918.5,1592.6 924.5,1596.3 930.5,1600.7 936.5,1605.9 942.5,1611.7 948.5,1618.0 954.5,1624.8 960.5,1631.9 966.5,1639.2 972.5,1646.6 978.5,1654.0 984.5,1661.3 990.5,1668.5 996.5,1675.4 1002.5,1682.0 1008.5,1688.3 1014.5,1694.2 1020.5,1699.7 1026.5,1704.7 1032.5,1709.4 1038.5,1713.5 1044.5,1717.3 1050.5,1720.6 1056.5,1723.6 1062.5,1726.2 1068.5,1728.5 1074.5,1730.4" fill="none" stroke="#00f000" stroke-width="3.8"/>
<polyline points="402.5,1740.0 408.5,1740.0 414.5,1740.0 420.5,1740.0 426.5,1740.0 432.5,1740.0 438.5,1740.0 444.5,1740.0 450.5,1740.0 456.5,1740.0 462.5,1740.0 468.5,1740.0 474.5,1740.0 480.5,1740.0 486.5,1740.0 492.5,1740.0 498.5,1740.0 504.5,1740.0 510.5,1740.0 516.5,1740.0 522.5,1740.0 528.5,1740.0 534.5,1740.0 540.5,1740.0 546.5,1740.0 552.5,1740.0 558.5,1740.0 564.5,1740.0 570.5,1740.0 576.5,1740.0 582.5,1740.0 588.5,1740.0 594.5,1740.0 600.5,1740.0 606.5,1740.0 612.5,1740.0 618.5,1740.0 624.5,1740.0 630.5,1740.0 636.5,1740.0 642.5,1740.0 648.5,1740.0 654.5,1740.0 660.5,1740.0 666.5,1740.0 672.5,1740.0 678.5,1740.0 684.5,1740.0 690.5,1740.0 696.5,1740.0 702.5,1740.0 708.5,1740.0 714.5,1740.0 720.5,1740.0 726.5,1740.0 732.5,1740.0 738.5,1740.0 744.5,1740.0 750.5,1740.0 756.5,1740.0 762.5,1740.0 768.5,1740.0 774.5,1740.0 780.5,1740.0 786.5,1740.0 792.5,1740.0 798.5,1740.0 804.5,1740.0 810.5,1740.0 816.5,1740.0 822.5,1740.0 828.5,1740.0 834.5,1740.0 840.5,1740.0 846.5,1740.0 852.5,1740.0 858.5,1740.0 864.5,1740.0 870.5,1740.0 876.5,1740.0 882.5,1740.0 888.5,1740.0 894.5,1740.0 900.5,1740.0 906.5,1740.0 912.5,1740.0 918.5,1740.0 924.5,1740.0 930.5,1740.0 936.5,1740.0 942.5,1740.0 948.5,1739.9 954.5,1739.9 960.5,1739.9 966.5,1739.8 972.5,1739.7 978.5,1739.5 984.5,1739.3 990.5,1739.0 996.5,1738.6 1002.5,1738.0 1008.5,1737.2 1014.5,1736.2 1020.5,1734.9 1026.5,1733.3 1032.5,1731.3 1038.5,1728.8 1044.5,1725.8 1050.5,1722.3 1056.5,1718.2 1062.5,1713.5 1068.5,1708.3 1074.5,1702.7" fill="none" stroke="#0000ff" stroke-width="2.2"/>
<line x1="402.5" y1="1740.0" x2="1078.5" y2="1740.0" stroke="#00ffff" stroke-width="4"/>
<rect x="364.0" y="827.6" width="749.5" height="969.1" fill="none" stroke="#000" stroke-width="3.4"/>
<path d="M1512.8,912.6 L1540.8,912.6 M1512.8,1086.1999999999998 L1540.8,1086.1999999999998 M1512.8,1240.6 L1540.8,1240.6 M1513.3,1416.1 L1540.8,1416.1 M1510.8,1576.6 L1540.8,1576.6 M1509.3,1734.6 L1540.8,1734.6 M1527.8,997.9 L1540.8,997.9 M1527.8,1165.1 L1540.8,1165.1 M1527.8,1327.6 L1540.8,1327.6 M1526.8,1494.8 L1540.8,1494.8 M1525.3,1655.1999999999998 L1540.8,1655.1999999999998 M1616.6,1798.3 L1616.6,1837.6 M1915.4,1798.3 L1915.4,1837.6 M2221.6,1798.3 L2221.6,1837.6 M1764.6,1798.3 L1764.6,1817.6 M2069.7,1798.3 L2069.7,1817.6" stroke="#8a8a8a" stroke-width="3" fill="none"/>
<text x="1495.4" y="943.3" font-size="100" text-anchor="end" >7.5</text>
<text x="1502.3" y="1111.8" font-size="100" text-anchor="end" >6.0</text>
<text x="1505.8" y="1267.6" font-size="100" text-anchor="end" >4.5</text>
<text x="1499.9" y="1442.1" font-size="100" text-anchor="end" >3.0</text>
<text x="1498.5" y="1604.8" font-size="100" text-anchor="end" >1.5</text>
<text x="1496.4" y="1762.2" font-size="100" text-anchor="end" >0</text>
<text x="1605.6" y="1921.0" font-size="100.5" text-anchor="middle" >200</text>
<text x="1907.7" y="1921.0" font-size="100.5" text-anchor="middle" >300</text>
<text x="2208.6" y="1921.0" font-size="100.5" text-anchor="middle" >400</text>
<text x="0" y="0" font-size="118" transform="translate(1327.2 1800.3) rotate(-90)">CL intensity (a.u.)</text>
<text x="1471.9" y="2036.2" font-size="117.3" text-anchor="start" >Wavelength (nm)</text>
<polyline points="1579.8,1730.2 1580.8,1725.7 1581.8,1731.0 1582.8,1728.4 1583.8,1731.9 1584.8,1727.0 1585.8,1725.9 1586.8,1719.6 1587.8,1715.7 1588.8,1719.6 1589.8,1726.7 1590.8,1727.1 1591.8,1729.5 1592.8,1736.9 1593.8,1737.2 1594.8,1735.9 1595.8,1736.0 1596.8,1740.3 1597.8,1732.5 1598.8,1728.1 1599.8,1725.2 1600.8,1727.7 1601.8,1721.1 1602.8,1726.5 1603.8,1721.3 1604.8,1715.4 1605.8,1717.8 1606.8,1716.5 1607.8,1717.4 1608.8,1709.1 1609.8,1714.1 1610.8,1722.7 1611.8,1732.7 1612.8,1734.8 1613.8,1736.2 1614.8,1743.8 1615.8,1740.2 1616.8,1734.7 1617.8,1738.8 1618.8,1736.6 1619.8,1736.4 1620.8,1735.9 1621.8,1741.6 1622.8,1738.5 1623.8,1740.2 1624.8,1739.6 1625.8,1735.5 1626.8,1734.7 1627.8,1735.1 1628.8,1726.4 1629.8,1727.2 1630.8,1723.9 1631.8,1722.6 1632.8,1721.4 1633.8,1723.9 1634.8,1724.1 1635.8,1726.4 1636.8,1726.1 1637.8,1729.1 1638.8,1735.0 1639.8,1731.2 1640.8,1733.2 1641.8,1731.1 1642.8,1724.5 1643.8,1725.1 1644.8,1720.2 1645.8,1721.5 1646.8,1718.3 1647.8,1720.2 1648.8,1718.8 1649.8,1715.7 1650.8,1722.8 1651.8,1719.1 1652.8,1711.2 1653.8,1714.7 1654.8,1714.4 1655.8,1723.0 1656.8,1720.8 1657.8,1723.7 1658.8,1725.2 1659.8,1729.5 1660.8,1729.0 1661.8,1727.8 1662.8,1727.8 1663.8,1727.6 1664.8,1729.4 1665.8,1727.1 1666.8,1724.4 1667.8,1723.1 1668.8,1721.1 1669.8,1722.1 1670.8,1716.5 1671.8,1720.8 1672.8,1724.5 1673.8,1720.0 1674.8,1718.3 1675.8,1719.3 1676.8,1716.4 1677.8,1716.6 1678.8,1719.7 1679.8,1716.6 1680.8,1722.1 1681.8,1717.9 1682.8,1714.5 1683.8,1712.0 1684.8,1711.2 1685.8,1705.7 1686.8,1711.5 1687.8,1714.7 1688.8,1717.5 1689.8,1718.7 1690.8,1725.1 1691.8,1729.1 1692.8,1730.9 1693.8,1736.1 1694.8,1737.5 1695.8,1733.3 1696.8,1728.5 1697.8,1726.9 1698.8,1724.4 1699.8,1717.7 1700.8,1719.4 1701.8,1716.2 1702.8,1708.0 1703.8,1707.5 1704.8,1714.6 1705.8,1713.9 1706.8,1719.6 1707.8,1719.4 1708.8,1727.3 1709.8,1728.3 1710.8,1728.2 1711.8,1734.5 1712.8,1742.3 1713.8,1748.0 1714.8,1739.4 1715.8,1732.6 1716.8,1728.5 1717.8,1729.8 1718.8,1728.0 1719.8,1722.2 1720.8,1719.7 1721.8,1722.3 1722.8,1721.9 1723.8,1721.0 1724.8,1716.2 1725.8,1719.9 1726.8,1726.2 1727.8,1722.8 1728.8,1728.5 1729.8,1723.5 1730.8,1721.3 1731.8,1723.0 1732.8,1723.8 1733.8,1720.7 1734.8,1723.0 1735.8,1722.4 1736.8,1726.9 1737.8,1722.5 1738.8,1722.9 1739.8,1718.6 1740.8,1719.0 1741.8,1722.5 1742.8,1721.0 1743.8,1722.8 1744.8,1724.7 1745.8,1725.2 1746.8,1720.3 1747.8,1723.5 1748.8,1726.0 1749.8,1722.4 1750.8,1720.4 1751.8,1723.0 1752.8,1729.3 1753.8,1726.8 1754.8,1731.2 1755.8,1728.4 1756.8,1732.3 1757.8,1727.1 1758.8,1731.0 1759.8,1734.4 1760.8,1738.1 1761.8,1734.0 1762.8,1733.6 1763.8,1728.2 1764.8,1727.0 1765.8,1730.7 1766.8,1730.4 1767.8,1728.7 1768.8,1726.6 1769.8,1720.7 1770.8,1725.0 1771.8,1718.7 1772.8,1718.9 1773.8,1714.9 1774.8,1705.4 1775.8,1702.1 1776.8,1701.6 1777.8,1705.3 1778.8,1710.4 1779.8,1709.0 1780.8,1712.5 1781.8,1708.9 1782.8,1711.4 1783.8,1712.9 1784.8,1715.9 1785.8,1713.8 1786.8,1717.1 1787.8,1719.6 1788.8,1717.2 1789.8,1716.2 1790.8,1717.5 1791.8,1716.0 1792.8,1717.5 1793.8,1723.1 1794.8,1722.3 1795.8,1718.0 1796.8,1721.4 1797.8,1725.2 1798.8,1728.4 1799.8,1730.2 1800.8,1732.7 1801.8,1731.9 1802.8,1729.7 1803.8,1727.7 1804.8,1729.6 1805.8,1728.0 1806.8,1728.5 1807.8,1724.4 1808.8,1716.5 1809.8,1712.1 1810.8,1710.5 1811.8,1710.7 1812.8,1713.1 1813.8,1711.0 1814.8,1712.5 1815.8,1721.2 1816.8,1728.1 1817.8,1732.0 1818.8,1737.2 1819.8,1732.7 1820.8,1727.9 1821.8,1725.2 1822.8,1719.8 1823.8,1719.2 1824.8,1722.6 1825.8,1722.6 1826.8,1717.4 1827.8,1711.3 1828.8,1706.7 1829.8,1704.3 1830.8,1700.1 1831.8,1710.7 1832.8,1716.2 1833.8,1718.0 1834.8,1721.8 1835.8,1722.2 1836.8,1733.0 1837.8,1731.4 1838.8,1720.3 1839.8,1723.8 1840.8,1726.1 1841.8,1727.6 1842.8,1719.4 1843.8,1719.6 1844.8,1722.1 1845.8,1717.9 1846.8,1713.5 1847.8,1710.9 1848.8,1710.0 1849.8,1706.7 1850.8,1709.0 1851.8,1703.4 1852.8,1706.2 1853.8,1707.1 1854.8,1706.9 1855.8,1703.1 1856.8,1701.7 1857.8,1701.7 1858.8,1700.8 1859.8,1702.4 1860.8,1699.3 1861.8,1704.2 1862.8,1705.4 1863.8,1695.5 1864.8,1695.8 1865.8,1691.5 1866.8,1694.2 1867.8,1691.7 1868.8,1687.5 1869.8,1683.2 1870.8,1684.7 1871.8,1688.7 1872.8,1685.8 1873.8,1679.7 1874.8,1674.6 1875.8,1673.6 1876.8,1669.4 1877.8,1665.9 1878.8,1665.7 1879.8,1668.6 1880.8,1666.6 1881.8,1663.9 1882.8,1658.4 1883.8,1656.3 1884.8,1661.0 1885.8,1656.2 1886.8,1650.5 1887.8,1637.4 1888.8,1632.5 1889.8,1622.1 1890.8,1613.1 1891.8,1607.0 1892.8,1606.5 1893.8,1597.3 1894.8,1586.9 1895.8,1580.2 1896.8,1569.8 1897.8,1574.7 1898.8,1571.8 1899.8,1564.4 1900.8,1562.4 1901.8,1552.5 1902.8,1559.3 1903.8,1556.8 1904.8,1553.7 1905.8,1552.5 1906.8,1548.3 1907.8,1542.0 1908.8,1539.2 1909.8,1534.4 1910.8,1530.7 1911.8,1521.6 1912.8,1512.9 1913.8,1508.2 1914.8,1498.6 1915.8,1500.1 1916.8,1489.0 1917.8,1477.9 1918.8,1473.7 1919.8,1469.1 1920.8,1461.2 1921.8,1456.5 1922.8,1441.0 1923.8,1428.0 1924.8,1409.9 1925.8,1401.2 1926.8,1391.9 1927.8,1372.7 1928.8,1361.4 1929.8,1357.8 1930.8,1348.4 1931.8,1341.7 1932.8,1342.0 1933.8,1339.3 1934.8,1329.4 1935.8,1328.4 1936.8,1333.3 1937.8,1321.3 1938.8,1314.9 1939.8,1312.0 1940.8,1310.1 1941.8,1305.3 1942.8,1292.7 1943.8,1277.0 1944.8,1263.6 1945.8,1246.6 1946.8,1238.5 1947.8,1234.4 1948.8,1231.9 1949.8,1233.5 1950.8,1232.5 1951.8,1232.9 1952.8,1230.3 1953.8,1224.9 1954.8,1226.3 1955.8,1216.8 1956.8,1212.4 1957.8,1201.8 1958.8,1201.5 1959.8,1194.8 1960.8,1182.3 1961.8,1169.0 1962.8,1163.9 1963.8,1149.2 1964.8,1140.5 1965.8,1135.1 1966.8,1134.3 1967.8,1128.3 1968.8,1130.4 1969.8,1131.1 1970.8,1133.0 1971.8,1130.5 1972.8,1129.8 1973.8,1129.4 1974.8,1126.3 1975.8,1116.0 1976.8,1106.6 1977.8,1099.0 1978.8,1086.6 1979.8,1078.8 1980.8,1071.2 1981.8,1057.0 1982.8,1059.7 1983.8,1060.0 1984.8,1061.8 1985.8,1057.9 1986.8,1060.5 1987.8,1067.6 1988.8,1056.9 1989.8,1057.2 1990.8,1056.4 1991.8,1052.7 1992.8,1048.7 1993.8,1051.6 1994.8,1045.0 1995.8,1053.5 1996.8,1062.5 1997.8,1068.9 1998.8,1072.2 1999.8,1068.2 2000.8,1072.1 2001.8,1066.9 2002.8,1068.9 2003.8,1067.9 2004.8,1070.5 2005.8,1075.6 2006.8,1083.7 2007.8,1084.9 2008.8,1089.9 2009.8,1091.9 2010.8,1093.5 2011.8,1105.0 2012.8,1104.1 2013.8,1095.5 2014.8,1095.3 2015.8,1089.3 2016.8,1084.7 2017.8,1096.9 2018.8,1111.6 2019.8,1122.5 2020.8,1131.2 2021.8,1139.4 2022.8,1134.6 2023.8,1131.8 2024.8,1132.2 2025.8,1141.3 2026.8,1138.5 2027.8,1141.3 2028.8,1147.5 2029.8,1155.0 2030.8,1164.2 2031.8,1174.2 2032.8,1180.0 2033.8,1184.7 2034.8,1190.8 2035.8,1191.7 2036.8,1195.0 2037.8,1201.8 2038.8,1203.3 2039.8,1218.3 2040.8,1226.0 2041.8,1232.8 2042.8,1235.9 2043.8,1240.9 2044.8,1245.5 2045.8,1246.1 2046.8,1249.1 2047.8,1255.1 2048.8,1259.5 2049.8,1261.3 2050.8,1269.7 2051.8,1276.5 2052.8,1275.3 2053.8,1275.8 2054.8,1279.2 2055.8,1287.6 2056.8,1290.7 2057.8,1297.6 2058.8,1303.0 2059.8,1308.0 2060.8,1319.7 2061.8,1322.3 2062.8,1329.7 2063.8,1337.4 2064.8,1360.8 2065.8,1370.6 2066.8,1379.8 2067.8,1379.7 2068.8,1379.2 2069.8,1376.7 2070.8,1381.6 2071.8,1378.8 2072.8,1381.7 2073.8,1383.0 2074.8,1388.5 2075.8,1386.2 2076.8,1387.9 2077.8,1390.1 2078.8,1389.1 2079.8,1392.0 2080.8,1396.9 2081.8,1402.7 2082.8,1404.8 2083.8,1405.6 2084.8,1412.3 2085.8,1411.1 2086.8,1411.8 2087.8,1433.2 2088.8,1442.3 2089.8,1448.7 2090.8,1455.3 2091.8,1466.7 2092.8,1481.1 2093.8,1480.8 2094.8,1488.3 2095.8,1485.7 2096.8,1490.1 2097.8,1489.6 2098.8,1490.2 2099.8,1492.6 2100.8,1495.7 2101.8,1496.3 2102.8,1499.7 2103.8,1507.8 2104.8,1513.8 2105.8,1514.2 2106.8,1516.3 2107.8,1518.3 2108.8,1528.2 2109.8,1532.2 2110.8,1530.7 2111.8,1537.6 2112.8,1540.9 2113.8,1542.9 2114.8,1556.7 2115.8,1562.9 2116.8,1567.1 2117.8,1575.7 2118.8,1577.4 2119.8,1585.9 2120.8,1591.9 2121.8,1590.2 2122.8,1593.2 2123.8,1592.8 2124.8,1599.6 2125.8,1603.3 2126.8,1599.8 2127.8,1603.0 2128.8,1609.3 2129.8,1616.6 2130.8,1615.1 2131.8,1617.3 2132.8,1623.3 2133.8,1629.7 2134.8,1624.2 2135.8,1626.3 2136.8,1629.2 2137.8,1624.4 2138.8,1622.3 2139.8,1623.3 2140.8,1617.8 2141.8,1624.4 2142.8,1619.4 2143.8,1620.9 2144.8,1626.9 2145.8,1631.6 2146.8,1635.6 2147.8,1638.2 2148.8,1645.1 2149.8,1647.5 2150.8,1659.9 2151.8,1657.7 2152.8,1659.4 2153.8,1661.5 2154.8,1667.1 2155.8,1667.2 2156.8,1672.4 2157.8,1669.4 2158.8,1673.6 2159.8,1683.1 2160.8,1692.8 2161.8,1706.9 2162.8,1717.8 2163.8,1713.9 2164.8,1702.4 2165.8,1701.3 2166.8,1693.2 2167.8,1687.8 2168.8,1682.8 2169.8,1686.6 2170.8,1692.7 2171.8,1696.7 2172.8,1698.0 2173.8,1691.6 2174.8,1692.8 2175.8,1696.3 2176.8,1697.4 2177.8,1697.8 2178.8,1693.8 2179.8,1698.8 2180.8,1706.9 2181.8,1712.6 2182.8,1717.7 2183.8,1722.6 2184.8,1731.3 2185.8,1741.2 2186.8,1732.4 2187.8,1727.3 2188.8,1721.7 2189.8,1708.2 2190.8,1705.6 2191.8,1704.5 2192.8,1712.3 2193.8,1714.1 2194.8,1719.4 2195.8,1724.5 2196.8,1732.6 2197.8,1734.1 2198.8,1735.5 2199.8,1737.6 2200.8,1736.6 2201.8,1735.9 2202.8,1738.1 2203.8,1739.3 2204.8,1743.3 2205.8,1746.4 2206.8,1742.4 2207.8,1737.9 2208.8,1746.1 2209.8,1744.1 2210.8,1740.6 2211.8,1742.0 2212.8,1746.0 2213.8,1736.4 2214.8,1735.4 2215.8,1736.5 2216.8,1728.2 2217.8,1734.2 2218.8,1738.2 2219.8,1736.4 2220.8,1736.9 2221.8,1736.9 2222.8,1740.2 2223.8,1749.6 2224.8,1746.0 2225.8,1748.9 2226.8,1740.8 2227.8,1742.6 2228.8,1741.8 2229.8,1738.8 2230.8,1731.1 2231.8,1734.3 2232.8,1738.4 2233.8,1734.5 2234.8,1729.4 2235.8,1730.9 2236.8,1723.1 2237.8,1727.3 2238.8,1725.6 2239.8,1721.0 2240.8,1720.3 2241.8,1720.5 2242.8,1726.8 2243.8,1734.2 2244.8,1734.0 2245.8,1734.2 2246.8,1736.5 2247.8,1734.5 2248.8,1737.2 2249.8,1729.2 2250.8,1735.3 2251.8,1737.0 2252.8,1738.6 2253.8,1739.3" fill="none" stroke="#000" stroke-width="5" stroke-linejoin="round"/>
<polyline points="1580.0,1728.5 1586.0,1728.5 1592.0,1728.5 1598.0,1728.5 1604.0,1728.5 1610.0,1728.5 1616.0,1728.5 1622.0,1728.5 1628.0,1728.5 1634.0,1728.5 1640.0,1728.5 1646.0,1728.5 1652.0,1728.5 1658.0,1728.5 1664.0,1728.5 1670.0,1728.5 1676.0,1728.5 1682.0,1728.5 1688.0,1728.5 1694.0,1728.5 1700.0,1728.5 1706.0,1728.5 1712.0,1728.5 1718.0,1728.5 1724.0,1728.5 1730.0,1728.5 1736.0,1728.5 1742.0,1728.5 1748.0,1728.5 1754.0,1728.5 1760.0,1728.4 1766.0,1728.4 1772.0,1728.3 1778.0,1728.2 1784.0,1728.1 1790.0,1727.8 1796.0,1727.5 1802.0,1727.1 1808.0,1726.4 1814.0,1725.4 1820.0,1724.1 1826.0,1722.3 1832.0,1719.9 1838.0,1716.6 1844.0,1712.3 1850.0,1706.7 1856.0,1699.6 1862.0,1690.7 1868.0,1679.5 1874.0,1665.8 1880.0,1649.3 1886.0,1629.7 1892.0,1606.7 1898.0,1580.2 1904.0,1550.2 1910.0,1516.8 1916.0,1480.1 1922.0,1440.7 1928.0,1399.1 1934.0,1356.1 1940.0,1312.7 1946.0,1269.9 1952.0,1228.9 1958.0,1191.0 1964.0,1157.2 1970.0,1128.8 1976.0,1106.6 1982.0,1091.6 1988.0,1084.2 1994.0,1084.8 2000.0,1093.2 2006.0,1109.2 2012.0,1132.2 2018.0,1161.4 2024.0,1195.8 2030.0,1234.2 2036.0,1275.5 2042.0,1318.5 2048.0,1361.9 2054.0,1404.7 2060.0,1446.1 2066.0,1485.2 2072.0,1521.4 2078.0,1554.4 2084.0,1584.0 2090.0,1610.0 2096.0,1632.5 2102.0,1651.7 2108.0,1667.8 2114.0,1681.1 2120.0,1692.0 2126.0,1700.7 2132.0,1707.6 2138.0,1713.0 2144.0,1717.1 2150.0,1720.2 2156.0,1722.6 2162.0,1724.3 2168.0,1725.6 2174.0,1726.5 2180.0,1727.1 2186.0,1727.6 2192.0,1727.9 2198.0,1728.1 2204.0,1728.2 2210.0,1728.3 2216.0,1728.4 2222.0,1728.4 2228.0,1728.5 2234.0,1728.5 2240.0,1728.5 2246.0,1728.5 2252.0,1728.5" fill="none" stroke="#ff3b3b" stroke-width="1.6"/>
<polyline points="1580.0,1728.5 1586.0,1728.5 1592.0,1728.5 1598.0,1728.5 1604.0,1728.5 1610.0,1728.5 1616.0,1728.5 1622.0,1728.5 1628.0,1728.5 1634.0,1728.5 1640.0,1728.5 1646.0,1728.5 1652.0,1728.5 1658.0,1728.5 1664.0,1728.5 1670.0,1728.5 1676.0,1728.5 1682.0,1728.5 1688.0,1728.5 1694.0,1728.5 1700.0,1728.5 1706.0,1728.5 1712.0,1728.5 1718.0,1728.5 1724.0,1728.5 1730.0,1728.5 1736.0,1728.5 1742.0,1728.5 1748.0,1728.5 1754.0,1728.5 1760.0,1728.5 1766.0,1728.5 1772.0,1728.5 1778.0,1728.5 1784.0,1728.5 1790.0,1728.5 1796.0,1728.5 1802.0,1728.5 1808.0,1728.5 1814.0,1728.5 1820.0,1728.5 1826.0,1728.5 1832.0,1728.5 1838.0,1728.5 1844.0,1728.5 1850.0,1728.5 1856.0,1728.5 1862.0,1728.5 1868.0,1728.5 1874.0,1728.5 1880.0,1728.5 1886.0,1728.5 1892.0,1728.5 1898.0,1728.5 1904.0,1728.4 1910.0,1728.4 1916.0,1728.3 1922.0,1728.2 1928.0,1728.0 1934.0,1727.7 1940.0,1727.3 1946.0,1726.7 1952.0,1725.9 1958.0,1724.8 1964.0,1723.3 1970.0,1721.3 1976.0,1718.6 1982.0,1715.2 1988.0,1710.8 1994.0,1705.5 2000.0,1699.1 2006.0,1691.4 2012.0,1682.5 2018.0,1672.4 2024.0,1661.3 2030.0,1649.2 2036.0,1636.5 2042.0,1623.5 2048.0,1610.7 2054.0,1598.4 2060.0,1587.2 2066.0,1577.6 2072.0,1569.9 2078.0,1564.6 2084.0,1561.8 2090.0,1561.8 2096.0,1564.6 2102.0,1569.9 2108.0,1577.6 2114.0,1587.2 2120.0,1598.4 2126.0,1610.7 2132.0,1623.5 2138.0,1636.5 2144.0,1649.2 2150.0,1661.3 2156.0,1672.4 2162.0,1682.5 2168.0,1691.4 2174.0,1699.1 2180.0,1705.5 2186.0,1710.8 2192.0,1715.2 2198.0,1718.6 2204.0,1721.3 2210.0,1723.3 2216.0,1724.8 2222.0,1725.9 2228.0,1726.7 2234.0,1727.3 2240.0,1727.7 2246.0,1728.0 2252.0,1728.2" fill="none" stroke="#00f020" stroke-width="2.3"/>
<polyline points="1580.0,1728.5 1586.0,1728.5 1592.0,1728.5 1598.0,1728.5 1604.0,1728.5 1610.0,1728.5 1616.0,1728.5 1622.0,1728.5 1628.0,1728.5 1634.0,1728.5 1640.0,1728.5 1646.0,1728.5 1652.0,1728.5 1658.0,1728.5 1664.0,1728.5 1670.0,1728.5 1676.0,1728.5 1682.0,1728.5 1688.0,1728.5 1694.0,1728.5 1700.0,1728.5 1706.0,1728.5 1712.0,1728.5 1718.0,1728.5 1724.0,1728.5 1730.0,1728.5 1736.0,1728.5 1742.0,1728.5 1748.0,1728.5 1754.0,1728.5 1760.0,1728.5 1766.0,1728.5 1772.0,1728.5 1778.0,1728.5 1784.0,1728.5 1790.0,1728.5 1796.0,1728.5 1802.0,1728.5 1808.0,1728.5 1814.0,1728.5 1820.0,1728.5 1826.0,1728.5 1832.0,1728.5 1838.0,1728.5 1844.0,1728.5 1850.0,1728.5 1856.0,1728.5 1862.0,1728.5 1868.0,1728.5 1874.0,1728.5 1880.0,1728.5 1886.0,1728.5 1892.0,1728.5 1898.0,1728.5 1904.0,1728.5 1910.0,1728.5 1916.0,1728.5 1922.0,1728.5 1928.0,1728.5 1934.0,1728.5 1940.0,1728.5 1946.0,1728.5 1952.0,1728.5 1958.0,1728.5 1964.0,1728.5 1970.0,1728.5 1976.0,1728.5 1982.0,1728.5 1988.0,1728.5 1994.0,1728.5 2000.0,1728.5 2006.0,1728.5 2012.0,1728.5 2018.0,1728.5 2024.0,1728.5 2030.0,1728.5 2036.0,1728.5 2042.0,1728.5 2048.0,1728.5 2054.0,1728.5 2060.0,1728.5 2066.0,1728.5 2072.0,1728.5 2078.0,1728.5 2084.0,1728.5 2090.0,1728.5 2096.0,1728.5 2102.0,1728.5 2108.0,1728.5 2114.0,1728.5 2120.0,1728.5 2126.0,1728.5 2132.0,1728.5 2138.0,1728.5 2144.0,1728.4 2150.0,1728.4 2156.0,1728.3 2162.0,1728.2 2168.0,1728.1 2174.0,1727.8 2180.0,1727.5 2186.0,1727.0 2192.0,1726.4 2198.0,1725.6 2204.0,1724.4 2210.0,1723.0 2216.0,1721.2 2222.0,1718.9 2228.0,1716.1 2234.0,1712.9 2240.0,1709.1 2246.0,1704.9 2252.0,1700.2" fill="none" stroke="#0000ff" stroke-width="1.8"/>
<line x1="1580" y1="1728.5" x2="2256" y2="1728.5" stroke="#00ffff" stroke-width="4"/>
<rect x="1540.8" y="829.2" width="749.5000000000002" height="969.0999999999999" fill="none" stroke="#000" stroke-width="3.4"/>
<path d="M668.8,921 L800.5,921 L800.5,1000 M668.8,936.4 L893.3,936.4 L893.3,1180 M464.4,1389.3 L615.5,1389.3 L615.5,1480" stroke="#6a6a6a" stroke-width="1.4" fill="none"/>
<path d="M784.3,956.8 L800.5,975.1999999999999 L816.9,956.8 L800.5,1008.8 Z" fill="#000"/>
<path d="M877.0999999999999,1139.3 L893.3,1157.7 L909.6999999999999,1139.3 L893.3,1191.3 Z" fill="#000"/>
<path d="M599.3,1440 L615.5,1458.4 L631.9,1440 L615.5,1492 Z" fill="#000"/>
<text x="0" y="0" font-size="80" font-style="italic" transform="translate(414.86 903.00) scale(0.9 1)">V</text>
<text x="0" y="0" font-size="53" font-style="italic" transform="translate(454.85 921.70) scale(1.0 1)">O</text>
<text x="0" y="0" font-size="82" transform="translate(512.42 903.20) scale(0.946 1)">sites</text>
<text x="0" y="0" font-size="81" transform="translate(399.37 978.00) scale(0.957 1)">in Al</text>
<text x="0" y="0" font-size="52" transform="translate(550.76 995.70) scale(1.0 1)">2</text>
<text x="0" y="0" font-size="81" transform="translate(577.66 978.00) scale(0.977 1)">O</text>
<text x="0" y="0" font-size="52" transform="translate(634.38 995.50) scale(0.95 1)">3</text>
<text x="0" y="0" font-size="81" transform="translate(401.10 1267.40) scale(0.968 1)">Fe</text>
<text x="0" y="0" font-size="52.5" transform="translate(477.63 1243.40) scale(1.0 1)">3+</text>
<text x="0" y="0" font-size="82" transform="translate(556.83 1267.00) scale(0.942 1)">sites</text>
<text x="0" y="0" font-size="81" transform="translate(430.66 1341.80) scale(0.962 1)">in ZrO</text>
<text x="0" y="0" font-size="52" transform="translate(639.16 1359.50) scale(1.0 1)">2</text>
<path d="M1854.9,921.4 L1986.3,921.4 L1986.3,1000 M1854.9,938.6 L2077.7,938.6 L2077.7,1180" stroke="#6a6a6a" stroke-width="1.4" fill="none"/>
<path d="M1970.1,956.6 L1986.3,975.0 L2002.7,956.6 L1986.3,1008.6 Z" fill="#000"/>
<path d="M2061.5,1140.9 L2077.7,1159.3000000000002 L2094.1,1140.9 L2077.7,1192.9 Z" fill="#000"/>
<text x="0" y="0" font-size="80" font-style="italic" transform="translate(1596.36 905.20) scale(0.9 1)">V</text>
<text x="0" y="0" font-size="53" font-style="italic" transform="translate(1636.35 923.90) scale(1.0 1)">O</text>
<text x="0" y="0" font-size="82" transform="translate(1693.92 905.40) scale(0.946 1)">sites</text>
<text x="0" y="0" font-size="81" transform="translate(1580.87 980.20) scale(0.957 1)">in Al</text>
<text x="0" y="0" font-size="52" transform="translate(1732.26 997.90) scale(1.0 1)">2</text>
<text x="0" y="0" font-size="81" transform="translate(1759.16 980.20) scale(0.977 1)">O</text>
<text x="0" y="0" font-size="52" transform="translate(1815.88 997.70) scale(0.95 1)">3</text>
</svg></body></html>
